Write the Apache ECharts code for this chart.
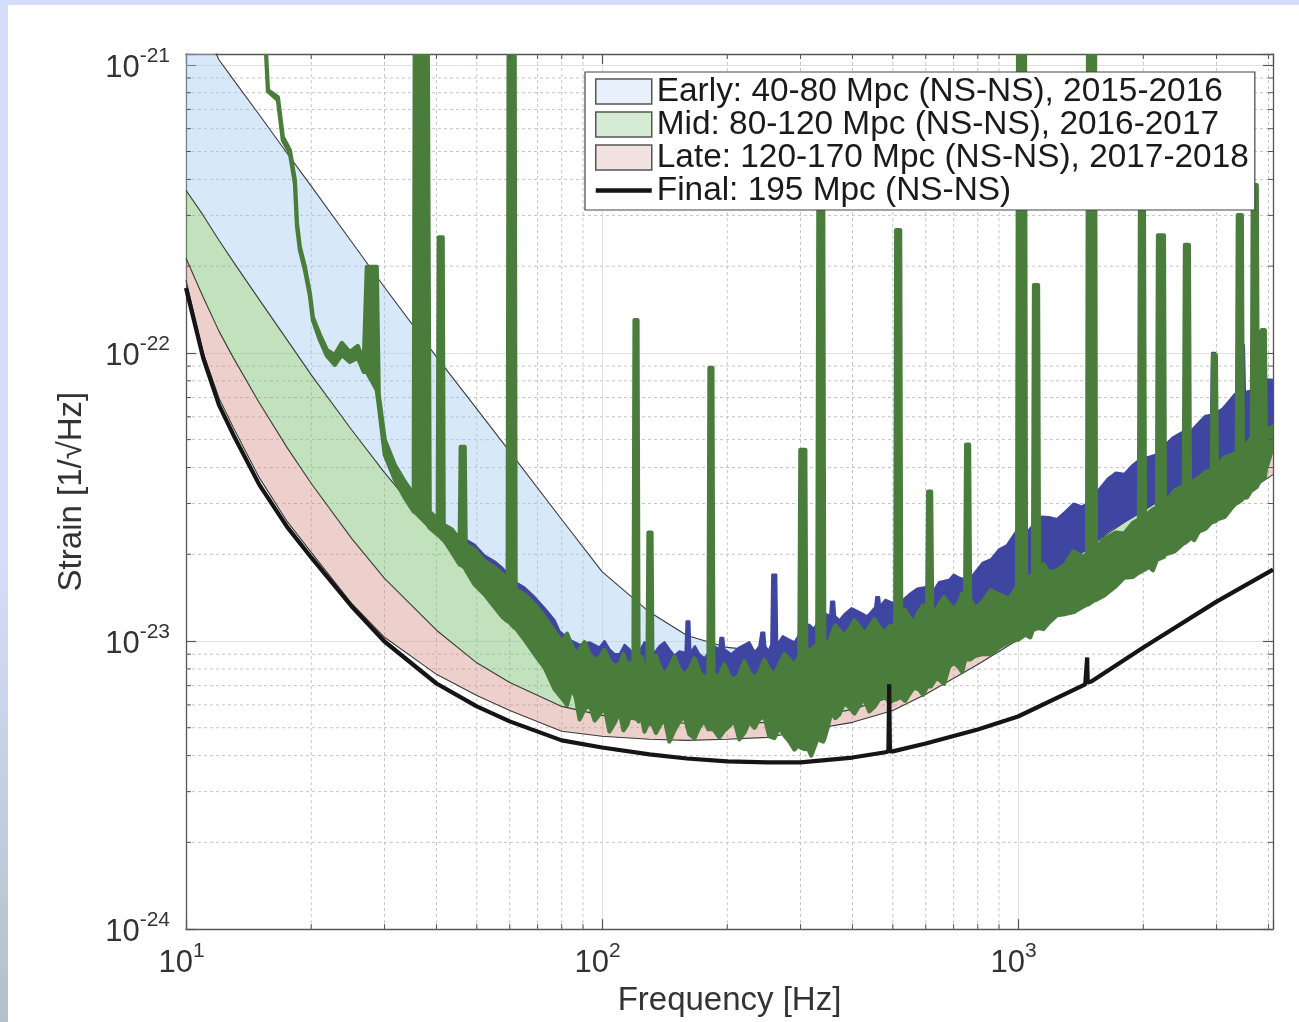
<!DOCTYPE html>
<html><head><meta charset="utf-8">
<script src="https://cdn.jsdelivr.net/npm/echarts@6/dist/echarts.min.js"></script>
<style>
html,body{margin:0;padding:0;width:1299px;height:1022px;overflow:hidden;background:#d4ddfa;}
#lft{position:absolute;left:0;top:0;width:8px;height:1022px;background:linear-gradient(#d4ddfa 0%,#d4ddfa 55%,#b3c1c8 100%);}
#bg{position:absolute;left:8px;top:5px;width:1291px;height:1017px;background:#fff;}
#chart{position:absolute;left:0;top:0;width:1299px;height:1022px;}
</style></head><body>
<div id="lft"></div><div id="bg"></div><div id="chart"></div>
<script>
// ---------- axis ranges & ticks ----------
const X_RANGE = [10, 4100];                 // Hz
const Y_RANGE = [1e-24, 1.09e-21];          // strain 1/sqrt(Hz)
const X_MINOR = [20,30,40,50,60,70,80,90,200,300,400,500,600,700,800,900,2000,3000,4000];
const Y_MINOR = [2e-24,3e-24,4e-24,5e-24,6e-24,7e-24,8e-24,9e-24,
                 2e-23,3e-23,4e-23,5e-23,6e-23,7e-23,8e-23,9e-23,
                 2e-22,3e-22,4e-22,5e-22,6e-22,7e-22,8e-22,9e-22];

// ---------- design sensitivity curves ----------
const BAND_F = [10,11,12,13,15,17.5,20,25,30,40,50,60,80,100,130,160,200,250,300,400,500,600,800,1000,1500,2000,3000,4100];
const EARLY_40 = [1496e-24,1370e-24,1041e-24,888e-24,671e-24,493e-24,379e-24,243e-24,169e-24,96.9e-24,63.9e-24,45.4e-24,26.4e-24,17.4e-24,12.6e-24,10.45e-24,9.5e-24,9.2e-24,9.35e-24,10.1e-24,11.2e-24,12.4e-24,15.1e-24,18.1e-24,25.9e-24,33.5e-24,49.9e-24,68.7e-24];
const MID_80   = [367e-24,300e-24,246e-24,207e-24,153e-24,111e-24,83.9e-24,54.1e-24,38.4e-24,23.4e-24,16.7e-24,13.2e-24,9.9e-24,8.4e-24,7.5e-24,7.07e-24,6.79e-24,6.68e-24,6.79e-24,7.36e-24,8.29e-24,9.5e-24,12.4e-24,15.1e-24,21.6e-24,28.6e-24,42.6e-24,61.0e-24];
const LATE_120 = [213e-24,156e-24,119e-24,96.1e-24,67.1e-24,46.9e-24,35.2e-24,22.7e-24,16.5e-24,10.9e-24,8.4e-24,7.18e-24,5.93e-24,5.52e-24,5.26e-24,5.18e-24,5.14e-24,5.22e-24,5.35e-24,5.79e-24,6.42e-24,7.24e-24,9.34e-24,11.4e-24,16.6e-24,21.9e-24,33.5e-24,46.9e-24];
const LATE_170 = [179e-24,100e-24,69.8e-24,55.0e-24,36.9e-24,26.0e-24,20.3e-24,13.5e-24,10.3e-24,7.66e-24,6.47e-24,5.74e-24,4.86e-24,4.67e-24,4.56e-24,4.52e-24,4.56e-24,4.63e-24,4.86e-24,5.22e-24,5.74e-24,6.53e-24,8.29e-24,10.1e-24,15.1e-24,19.2e-24,28.1e-24,37.8e-24];

const FINAL_F = [10,11,12,13,15,17.5,20,25,30,40,50,60,80,100,130,160,200,250,300,400,480,488,490,492,500,600,800,1000,1450,1462,1466,1470,1500,2000,3000,4100];
const FINAL_195 = [168e-24,96.0e-24,66.0e-24,51.9e-24,34.9e-24,24.9e-24,19.5e-24,13.2e-24,9.96e-24,7.12e-24,5.93e-24,5.26e-24,4.52e-24,4.27e-24,4.04e-24,3.91e-24,3.82e-24,3.79e-24,3.79e-24,3.94e-24,4.11e-24,4.14e-24,7.07e-24,4.14e-24,4.14e-24,4.41e-24,4.93e-24,5.47e-24,7.07e-24,7.1e-24,8.77e-24,7.18e-24,7.24e-24,9.5e-24,13.7e-24,17.7e-24];

// ---------- measured noise (green): upper / lower edge of the trace ----------
const GREEN_F = [15.48,15.74,16.63,17.09,17.77,18.27,18.48,18.78,19.31,19.85,
 20.18,20.98,21.81,22.79,23.69,24.76,25.88,26.75,27.20,28.74,
 29.06,30.04,31.76,33.57,35.27,35.47,38.11,38.53,40.27,40.50,
 41.40,41.63,43.52,45.49,45.74,46.76,47.02,49.41,52.22,55.19,
 57.69,59.31,59.64,61.65,61.99,65.15,68.85,72.76,76.91,80.38,
 84.48,88.31,93.33,98.63,104.2,110.2,115.1,119.0,119.7,121.7,
 122.4,126.5,128.6,129.3,131.5,132.2,137.4,145.2,153.5,162.2,
 171.4,180.2,181.2,184.2,185.2,191.4,202.3,213.8,226.0,238.8,
 252.4,266.8,282.0,298.0,299.7,308.1,309.7,318.4,329.1,331.1,
 340.2,342.1,355.6,371.6,392.8,415.2,438.8,463.8,490.1,506.6,
 509.4,520.8,523.7,547.3,578.5,604.6,608.0,618.1,621.6,646.1,
 682.8,721.6,745.9,750.0,762.6,766.8,819.5,900.4,994.5,1000,
 1039,1045,1086,1092,1117,1123,1187,1297,1425,1465,
 1473,1531,1539,1719,1889,1952,1963,2007,2018,2063,
 2157,2169,2242,2254,2503,2518,2574,2588,2720,2923,
 2939,2988,3005,3282,3356,3374,3450,3469,3646,3666,
 3748,3769,3832,3853,3918,3939,4100];
const GREEN_HI = [1300e-24,816e-24,772e-24,561e-24,505e-24,398e-24,282e-24,233e-24,199e-24,161e-24,
 133e-24,115.5e-24,102.4e-24,98.4e-24,108.3e-24,100.6e-24,105.7e-24,93.1e-24,199e-24,199e-24,
 71.5e-24,49.9e-24,40.9e-24,35.7e-24,32.2e-24,1300e-24,1300e-24,28.1e-24,26.4e-24,252e-24,
 252e-24,25.3e-24,24.4e-24,22.5e-24,47.2e-24,47.2e-24,21.6e-24,20.8e-24,18.9e-24,18.0e-24,
 17.0e-24,16.3e-24,1300e-24,1300e-24,15.1e-24,14.5e-24,13.4e-24,12.1e-24,10.8e-24,9.9e-24,
 9.7e-24,9.35e-24,9.0e-24,8.76e-24,8.5e-24,8.3e-24,8.1e-24,8.03e-24,130e-24,130e-24,
 8.03e-24,7.97e-24,7.97e-24,23.8e-24,23.8e-24,7.97e-24,8.16e-24,8.1e-24,7.97e-24,7.97e-24,
 7.84e-24,7.66e-24,88.7e-24,88.7e-24,7.66e-24,7.54e-24,7.54e-24,7.66e-24,7.78e-24,7.78e-24,
 7.97e-24,8.29e-24,8.63e-24,8.84e-24,46.1e-24,46.1e-24,8.98e-24,9.35e-24,9.72e-24,326e-24,
 326e-24,10.1e-24,10.4e-24,10.9e-24,10.96e-24,11.2e-24,11.15e-24,11.2e-24,11.2e-24,11.4e-24,
 267e-24,267e-24,11.7e-24,12.1e-24,12.7e-24,12.86e-24,33.0e-24,33.0e-24,13.1e-24,13.4e-24,
 13.4e-24,13.6e-24,13.9e-24,48.0e-24,48.0e-24,13.9e-24,13.6e-24,14.5e-24,15.4e-24,1300e-24,
 1300e-24,15.7e-24,16.3e-24,172e-24,172e-24,16.6e-24,17.3e-24,18.4e-24,19.6e-24,20.0e-24,
 1300e-24,1300e-24,20.8e-24,23.8e-24,25.7e-24,26.4e-24,313e-24,313e-24,26.8e-24,27.9e-24,
 29.0e-24,256e-24,256e-24,30.2e-24,34.6e-24,237e-24,237e-24,35.4e-24,36.9e-24,39.3e-24,
 98.4e-24,98.4e-24,40.3e-24,44.3e-24,45.4e-24,301e-24,301e-24,46.9e-24,50.7e-24,382e-24,
 382e-24,52.0e-24,52.8e-24,120e-24,120e-24,54.1e-24,55.4e-24];
const GREEN_LO = [1300e-24,809e-24,753e-24,547e-24,493e-24,388e-24,276e-24,228e-24,194e-24,158e-24,
 130e-24,110.9e-24,97.6e-24,90.9e-24,98.4e-24,93.1e-24,96.1e-24,85.9e-24,85.9e-24,74.4e-24,
 66.0e-24,44.3e-24,36.3e-24,31.4e-24,28.1e-24,28.1e-24,25.3e-24,24.7e-24,23.4e-24,23.4e-24,
 22.5e-24,22.5e-24,20.4e-24,18.4e-24,18.4e-24,18.0e-24,17.7e-24,15.7e-24,14.5e-24,13.1e-24,
 12.1e-24,11.7e-24,11.7e-24,11.1e-24,11.1e-24,10.1e-24,9.0e-24,8.1e-24,6.8e-24,6.3e-24,
 6.9e-24,5.35e-24,6.0e-24,5.56e-24,4.85e-24,5.7e-24,5.14e-24,5.4e-24,5.4e-24,5.35e-24,
 5.26e-24,4.85e-24,5.14e-24,5.14e-24,5.14e-24,5.14e-24,5.06e-24,4.48e-24,5.26e-24,4.74e-24,
 5.02e-24,4.94e-24,4.94e-24,4.94e-24,4.94e-24,4.63e-24,5.06e-24,4.56e-24,5.26e-24,5.35e-24,
 4.67e-24,5.02e-24,4.48e-24,4.38e-24,4.27e-24,4.21e-24,4.38e-24,4.0e-24,4.56e-24,4.56e-24,
 4.48e-24,4.56e-24,5.67e-24,5.56e-24,5.9e-24,5.97e-24,5.7e-24,6.27e-24,6.12e-24,6.27e-24,
 6.27e-24,6.37e-24,6.37e-24,6.53e-24,6.79e-24,6.96e-24,6.96e-24,6.96e-24,7.07e-24,7.36e-24,
 8.16e-24,8.1e-24,8.63e-24,8.63e-24,8.63e-24,8.63e-24,9.0e-24,9.5e-24,10.1e-24,10.1e-24,
 10.5e-24,10.5e-24,10.96e-24,10.96e-24,11.1e-24,11.1e-24,11.6e-24,12.4e-24,13.1e-24,13.4e-24,
 13.4e-24,13.9e-24,13.9e-24,15.5e-24,16.7e-24,17.3e-24,17.3e-24,17.7e-24,17.7e-24,18.1e-24,
 19.2e-24,19.2e-24,19.6e-24,19.95e-24,21.9e-24,21.9e-24,22.5e-24,22.9e-24,24.0e-24,25.9e-24,
 25.9e-24,26.1e-24,26.4e-24,29.3e-24,30.2e-24,30.2e-24,30.9e-24,31.4e-24,33.5e-24,33.5e-24,
 34.3e-24,34.9e-24,36.3e-24,36.3e-24,36.8e-24,39.3e-24,47.2e-24];
// fine structure of the green trace (extra readings between the points above)
const GREEN_F2  = [82.4,86.4,90.8,96.0,101.4,107.2,112.6,117.0,124.4,134.8,141.2,149.3,157.8,166.8,176.0,196.8,208.0,219.8,232.4,245.5,259.5,274.3,290.0,
 348.5,363.5,382.0,404.0,427.0,451.0,477.0,535.0,562.0,591.0,634.0,664.0,702.0,734.0,790.0,860.0,950.0,
 1070,1150,1240,1360,1600,1800,2110,2380,2650,2820,3140,3550];
const GREEN_HI2 = [10.6e-24,9.0e-24,9.9e-24,8.6e-24,9.3e-24,8.2e-24,9.0e-24,8.4e-24,8.8e-24,8.9e-24,7.6e-24,8.8e-24,7.6e-24,8.7e-24,7.4e-24,8.3e-24,7.3e-24,8.5e-24,7.4e-24,8.6e-24,7.6e-24,9.0e-24,8.2e-24,
 9.6e-24,11.3e-24,10.4e-24,11.8e-24,10.6e-24,11.9e-24,10.7e-24,12.8e-24,11.6e-24,13.3e-24,12.6e-24,14.2e-24,12.9e-24,14.6e-24,13.0e-24,15.0e-24,14.0e-24,
 16.8e-24,18.5e-24,17.6e-24,20.5e-24,22.5e-24,23.6e-24,28.6e-24,33.3e-24,36.0e-24,38.5e-24,43.5e-24,48.5e-24];
const GREEN_LO2 = [6.0e-24,6.4e-24,5.8e-24,5.3e-24,5.9e-24,5.2e-24,4.9e-24,5.6e-24,5.5e-24,4.8e-24,5.4e-24,4.9e-24,5.5e-24,4.6e-24,5.3e-24,4.9e-24,5.3e-24,4.8e-24,5.0e-24,5.5e-24,4.6e-24,4.7e-24,4.2e-24,
 5.0e-24,5.4e-24,6.1e-24,5.6e-24,6.3e-24,5.9e-24,6.5e-24,6.2e-24,6.9e-24,6.5e-24,7.4e-24,7.1e-24,8.4e-24,7.8e-24,8.9e-24,9.0e-24,9.9e-24,
 10.3e-24,11.0e-24,12.3e-24,12.6e-24,14.3e-24,16.6e-24,17.6e-24,20.5e-24,22.4e-24,24.5e-24,27.0e-24,31.5e-24];

// ---------- measured noise (blue) ----------
const BLUE_F = [47.0,49.4,52.2,55.2,57.7,62.0,65.2,68.9,72.8,76.9,
 79.1,83.6,88.3,93.3,98.6,104.2,110.2,116.4,123.0,130.0,
 137.4,145.2,153.5,158.7,159.6,162.2,163.1,171.4,181.1,191.4,
 192.5,195.7,196.8,213.8,238.8,241.5,245.5,246.9,255.1,256.5,
 262.3,263.7,281.8,297.8,314.7,332.6,353.4,355.3,361.3,363.3,
 382.7,415.0,453.5,456.0,463.5,466.1,497.0,547.1,599.7,645.7,
 682.4,721.2,822,899.7,985,1087,1186,1297,1425,1563,
 1717,1887,2065,2257,2476,2722,2910,2927,2975,2992,
 3230,3415,3434,3491,3511,3769,3793,3856,3878,4100];
const BLUE_HI = [22.5e-24,21.6e-24,19.8e-24,18.9e-24,17.9e-24,16.0e-24,15.3e-24,14.2e-24,13.0e-24,11.8e-24,
 10.8e-24,10.1e-24,9.7e-24,9.9e-24,9.5e-24,9.35e-24,9.0e-24,9.35e-24,9.2e-24,9.6e-24,
 9.6e-24,9.35e-24,9.2e-24,9.1e-24,11.7e-24,11.7e-24,9.1e-24,9.0e-24,9.2e-24,9.35e-24,
 10.25e-24,10.25e-24,9.35e-24,9.5e-24,9.6e-24,10.7e-24,10.7e-24,9.6e-24,9.7e-24,17.0e-24,
 17.0e-24,9.7e-24,10.1e-24,10.5e-24,11.4e-24,11.9e-24,12.2e-24,13.7e-24,13.7e-24,12.2e-24,
 12.4e-24,12.6e-24,13.1e-24,14.2e-24,14.2e-24,13.2e-24,13.6e-24,14.5e-24,15.4e-24,16.0e-24,
 16.3e-24,16.6e-24,18.7e-24,20.8e-24,23.8e-24,25.3e-24,26.9e-24,28.1e-24,29.3e-24,33.5e-24,
 38.4e-24,40.9e-24,43.6e-24,48.0e-24,53.0e-24,57.4e-24,61.0e-24,100e-24,100e-24,62.0e-24,
 68.7e-24,71.5e-24,106.6e-24,106.6e-24,73.2e-24,77.5e-24,118.3e-24,118.3e-24,78.7e-24,80.6e-24];
const BLUE_LO = [18.0e-24,16.0e-24,15.0e-24,13.5e-24,12.5e-24,11.5e-24,10.5e-24,9.5e-24,8.6e-24,8.0e-24,
 8.3e-24,8.5e-24,8.6e-24,8.6e-24,8.1e-24,7.84e-24,7.54e-24,7.66e-24,7.84e-24,7.97e-24,
 7.97e-24,7.36e-24,7.07e-24,7.07e-24,7.07e-24,7.07e-24,7.07e-24,6.9e-24,7.1e-24,7.15e-24,
 7.15e-24,7.15e-24,7.15e-24,7.2e-24,7.36e-24,7.36e-24,7.36e-24,7.36e-24,7.48e-24,7.48e-24,
 7.48e-24,7.66e-24,7.97e-24,8.1e-24,8.3e-24,8.5e-24,8.6e-24,8.6e-24,8.6e-24,8.6e-24,
 9.0e-24,9.1e-24,9.35e-24,9.35e-24,9.35e-24,9.35e-24,9.6e-24,10.1e-24,10.6e-24,11.0e-24,
 11.9e-24,12.1e-24,12.9e-24,13.7e-24,14.7e-24,15.9e-24,17.3e-24,18.7e-24,20.3e-24,22.5e-24,
 25.0e-24,27.0e-24,29.3e-24,31.7e-24,34.3e-24,37.2e-24,39.3e-24,39.3e-24,39.3e-24,40.3e-24,
 43.6e-24,46.1e-24,46.1e-24,46.9e-24,47.2e-24,49.9e-24,49.9e-24,51.3e-24,52.0e-24,55.4e-24];
// fine structure of the blue trace
const BLUE_F2  = [101.4,107.2,113.3,119.6,126.5,133.6,141.2,149.3,167.2,176.2,186.2,204.5,226,233,251,272,290,306,323,342,372,398,434,480,520,572,622,700,760,860,940,
 1030,1140,1240,1360,1490,1640,1800,1970,2160,2360,2600,2820,3100,3320,3650,3960];
const BLUE_HI2 = [10.0e-24,9.0e-24,9.7e-24,8.9e-24,9.9e-24,9.1e-24,9.9e-24,8.9e-24,9.6e-24,8.7e-24,9.6e-24,9.0e-24,9.9e-24,9.1e-24,9.2e-24,10.4e-24,9.9e-24,11.0e-24,11.0e-24,12.5e-24,11.8e-24,13.0e-24,12.2e-24,13.9e-24,13.6e-24,15.2e-24,14.7e-24,17.0e-24,16.2e-24,19.2e-24,21.5e-24,
 23.0e-24,27.0e-24,26.5e-24,30.0e-24,30.5e-24,36.5e-24,38.0e-24,43.0e-24,44.5e-24,51.0e-24,53.5e-24,60.5e-24,64.0e-24,72.0e-24,74.0e-24,81.0e-24];
const BLUE_LO2 = [8.0e-24,7.6e-24,7.6e-24,7.7e-24,7.8e-24,7.9e-24,7.5e-24,7.2e-24,7.0e-24,7.0e-24,7.1e-24,7.2e-24,7.3e-24,7.3e-24,7.4e-24,7.8e-24,8.0e-24,8.2e-24,8.4e-24,8.5e-24,8.8e-24,9.0e-24,9.2e-24,9.5e-24,9.8e-24,10.3e-24,10.8e-24,11.9e-24,12.4e-24,13.2e-24,14.2e-24,
 15.3e-24,16.6e-24,18.0e-24,19.5e-24,21.3e-24,24.0e-24,26.0e-24,28.0e-24,30.5e-24,33.0e-24,35.5e-24,38.5e-24,42.0e-24,45.0e-24,48.5e-24,53.0e-24];

const LEGEND_NAMES = ['Early: 40-80 Mpc (NS-NS), 2015-2016','Mid: 80-120 Mpc (NS-NS), 2016-2017',
                      'Late: 120-170 Mpc (NS-NS), 2017-2018','Final: 195 Mpc (NS-NS)'];

// ---------- build ----------
const U = 1e-24;   // the y axis works in units of 1e-24 (ECharts rounds tiny log tick values)
const FONT = '"Liberation Sans", Arial, Helvetica, sans-serif';
const TXT = '#333';
const GREEN = '#4a7d3c', BLUE = '#3f46a1';
const TX = Math.pow(10, 5 / 416.5), TY = Math.pow(10, 5 / 288.5);  // minor tick length factors
const ymin = Y_RANGE[0] / U, ymax = Y_RANGE[1] / U;

function rowsOf(F, HI, LO, F2, HI2, LO2) {
  let r = F.map((f, i) => [f, HI[i], LO[i]]);
  if (F2) r = r.concat(F2.map((f, i) => [f, HI2[i], LO2[i]]));
  return r.sort((a, b) => a[0] - b[0]);
}
function polySeries(name, rows, style, z) {
  const P = rows.map(r => [r[0], r[1] / U]).concat(rows.map(r => [r[0], r[2] / U]).reverse());
  return {
    type: 'custom', name, coordinateSystem: 'cartesian2d', clip: true, silent: true, z: z || 2,
    encode: { x: 0, y: 1 }, data: P,
    renderItem: (params, api) => params.dataIndex !== 0 ? null : {
      type: 'polygon', shape: { points: P.map(p => api.coord(p)) },
      style: Object.assign({ lineJoin: 'round' }, style)
    }
  };
}
function pts(F, V) { return F.map((f, i) => [f, V[i] / U]); }
function lineSeries(name, F, V, color, width, z) {
  return { type: 'line', name, data: pts(F, V), showSymbol: false, symbol: 'none', z: z || 3,
    lineStyle: { color, width }, itemStyle: { color }, silent: true, clip: true };
}
function supLabel(exp) { return '{b|10}{s|' + exp + '}'; }
function isDecade(v) { const e = Math.log10(v); return Math.abs(e - Math.round(e)) < 1e-6; }

const rich = {
  b: { fontSize: 31, fontFamily: FONT, color: TXT, verticalAlign: 'bottom', lineHeight: 38 },
  s: { fontSize: 21, fontFamily: FONT, color: TXT, verticalAlign: 'top', lineHeight: 38 }
};
const boxLine = { show: true, lineStyle: { color: '#555', width: 1.3 } };
const majTick = { show: true, inside: true, length: 10, lineStyle: { color: '#555', width: 1.2 } };

// grid helper series (dashed minor grid and minor ticks)
const gridX = [], gridY = [], ticks = [];
X_MINOR.forEach(v => { gridX.push([v, ymin], [v, ymax], [v, '-']);
  ticks.push([v, ymin], [v, ymin * TY], [v, '-'], [v, ymax], [v, ymax / TY], [v, '-']); });
Y_MINOR.forEach(v => { const y = v / U; gridY.push([X_RANGE[0], y], [X_RANGE[1], y], ['-', y]);
  ticks.push([X_RANGE[0], y], [X_RANGE[0] * TX, y], ['-', y], [X_RANGE[1], y], [X_RANGE[1] / TX, y], ['-', y]); });
const gridStyle = { color: '#c4c4c4', width: 1, type: [3, 3] };

const option = {
  animation: false,
  grid: { left: 186, top: 54, right: 26, bottom: 92, containLabel: false },
  legend: {
    z: 20,
    data: [
      { name: LEGEND_NAMES[0], icon: 'rect', itemStyle: { color: '#e8f0fb', borderColor: '#555', borderWidth: 1.5 } },
      { name: LEGEND_NAMES[1], icon: 'rect', itemStyle: { color: '#d6ebd3', borderColor: '#555', borderWidth: 1.5 } },
      { name: LEGEND_NAMES[2], icon: 'rect', itemStyle: { color: '#f3e3e0', borderColor: '#555', borderWidth: 1.5 } },
      { name: LEGEND_NAMES[3], icon: 'path://M0,0H64V5H0Z', itemStyle: { color: '#151515', borderWidth: 0 } }
    ],
    orient: 'vertical', left: 585, top: 72, itemWidth: 56, itemHeight: 25, itemGap: 0,
    padding: [3, 6, 3, 10], backgroundColor: '#fff', borderColor: '#444', borderWidth: 1.2,
    textStyle: { fontSize: 33.4, fontFamily: FONT, color: '#1a1a1a', lineHeight: 32.5 },
    selectedMode: false
  },
  xAxis: [
    { type: 'log', logBase: 10, min: X_RANGE[0], max: X_RANGE[1],
      axisLine: boxLine, axisTick: majTick,
      axisLabel: { margin: 12, padding: [0, 9, 0, 0], rich,
        formatter: v => isDecade(v) ? supLabel(Math.round(Math.log10(v))) : '' },
      splitLine: { show: true, lineStyle: { color: '#e2e2e2', width: 1 } },
      name: 'Frequency [Hz]', nameLocation: 'middle', nameGap: 53,
      nameTextStyle: { fontSize: 33, fontFamily: FONT, color: TXT } },
    { type: 'log', logBase: 10, min: X_RANGE[0], max: X_RANGE[1], position: 'top',
      axisLine: boxLine, axisTick: majTick, axisLabel: { show: false }, splitLine: { show: false } }
  ],
  yAxis: [
    { type: 'log', logBase: 10, min: ymin, max: ymax,
      axisLine: boxLine, axisTick: majTick,
      axisLabel: { margin: 16, rich,
        formatter: v => isDecade(v) ? supLabel(Math.round(Math.log10(v * U))) : '' },
      splitLine: { show: true, lineStyle: { color: '#e2e2e2', width: 1 } },
      name: 'Strain [1/\u221AHz]', nameLocation: 'middle', nameGap: 98,
      nameTextStyle: { fontSize: 33, fontFamily: FONT, color: TXT } },
    { type: 'log', logBase: 10, min: ymin, max: ymax, position: 'right',
      axisLine: boxLine, axisTick: majTick, axisLabel: { show: false }, splitLine: { show: false } }
  ],
  series: [
    { type: 'line', name: 'gridX', data: gridX, symbol: 'none', z: 1, silent: true, lineStyle: gridStyle },
    { type: 'line', name: 'gridY', data: gridY, symbol: 'none', z: 1, silent: true, lineStyle: gridStyle },
    polySeries(LEGEND_NAMES[0], rowsOf(BAND_F, EARLY_40, MID_80), { fill: 'rgba(160,200,240,0.42)' }),
    polySeries(LEGEND_NAMES[1], rowsOf(BAND_F, MID_80, LATE_120), { fill: 'rgba(120,190,110,0.45)' }),
    polySeries(LEGEND_NAMES[2], rowsOf(BAND_F, LATE_120, LATE_170), { fill: 'rgba(210,135,125,0.40)' }),
    lineSeries('40 Mpc', BAND_F, EARLY_40, '#3a3a3a', 1.1),
    lineSeries('80 Mpc', BAND_F, MID_80, '#3a3a3a', 1.1),
    lineSeries('120 Mpc', BAND_F, LATE_120, '#3a3a3a', 1.1),
    lineSeries('170 Mpc', BAND_F, LATE_170, '#3a3a3a', 1.1),
    polySeries('blue noise', rowsOf(BLUE_F, BLUE_HI, BLUE_LO, BLUE_F2, BLUE_HI2, BLUE_LO2), { fill: BLUE, stroke: BLUE, lineWidth: 2.2 }, 4),
    polySeries('green noise', rowsOf(GREEN_F, GREEN_HI, GREEN_LO, GREEN_F2, GREEN_HI2, GREEN_LO2), { fill: GREEN, stroke: GREEN, lineWidth: 4.2 }, 5),
    lineSeries(LEGEND_NAMES[3], FINAL_F, FINAL_195, '#151515', 4.2, 6),
    { type: 'line', name: 'minor ticks', data: ticks, symbol: 'none', z: 7, silent: true,
      lineStyle: { color: '#555', width: 1 } }
  ]
};
const chart = echarts.init(document.getElementById('chart'), null, { renderer: 'canvas' });
chart.setOption(option);
</script></body></html>
